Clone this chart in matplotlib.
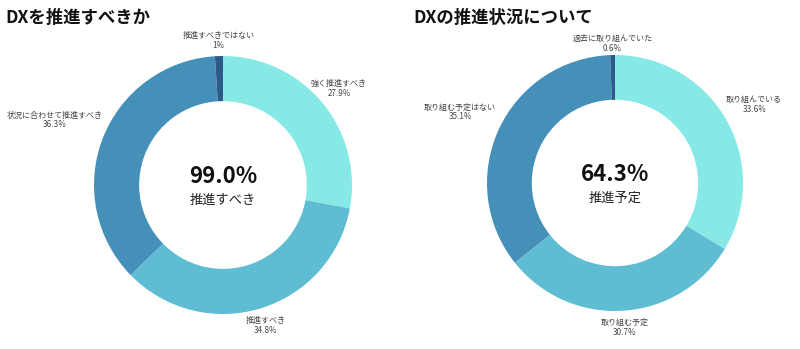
import numpy as np
import matplotlib
matplotlib.use('Agg')
import matplotlib.pyplot as plt

plt.rcParams['font.family'] = ['Noto Sans CJK JP', 'DejaVu Sans']

# data
left_title = 'DXを推進すべきか'
left_labels = ['強く推進すべき', '推進すべき', '状況に合わせて推進すべき', '推進すべきではない']
left_values = [27.9, 34.8, 36.3, 1.0]
left_pct_text = ['27.9%', '34.8%', '36.3%', '1%']
left_center_value = '99.0%'
left_center_label = '推進すべき'

right_title = 'DXの推進状況について'
right_labels = ['取り組んでいる', '取り組む予定', '取り組む予定はない', '過去に取り組んでいた']
right_values = [33.6, 30.7, 35.1, 0.6]
right_pct_text = ['33.6%', '30.7%', '35.1%', '0.6%']
right_center_value = '64.3%'
right_center_label = '推進予定'

colors = ['#87e9e6', '#5ebcd3', '#4590b9', '#2d5a8a']

W, H = 800, 349
fig = plt.figure(figsize=(W / 100, H / 100), dpi=100)


def donut(cx, cy, r, values, labels, pcts, dists, center_value, center_label):
    ax = fig.add_axes([(cx - r) / W, (cy - r) / H, 2 * r / W, 2 * r / H])
    ax.pie(values, colors=colors, startangle=90, counterclock=False,
           radius=1.0, wedgeprops=dict(width=0.35, linewidth=0))
    ax.set_xlim(-1, 1)
    ax.set_ylim(-1, 1)
    ax.set_aspect('equal')
    ax.axis('off')
    total = sum(values)
    start = 90.0
    for v, lab, p, d in zip(values, labels, pcts, dists):
        sweep = v / total * 360
        mid = np.deg2rad(start - sweep / 2)
        start -= sweep
        ax.text(d * np.cos(mid), d * np.sin(mid), f'{lab}\n{p}', ha='center', va='center',
                fontsize=5.8, color='#444444', linespacing=1.1, clip_on=False)
    ax.text(0, 0.065, center_value, ha='center', va='center', fontsize=16,
            fontweight='bold', color='#111111')
    ax.text(0, -0.12, center_label, ha='center', va='center', fontsize=9.5,
            color='#222222')
    return ax


# pixel centres measured from the top of the image
donut(223, H - 185, 129, left_values, left_labels, left_pct_text,
      [1.17, 1.14, 1.40, 1.12], left_center_value, left_center_label)
donut(615, H - 183, 128, right_values, right_labels, right_pct_text,
      [1.25, 1.13, 1.33, 1.09], right_center_value, right_center_label)

fig.text(5 / W, 1 - 18 / H, left_title, ha='left', va='center', fontsize=12.5,
         fontweight='bold', color='#111111')
fig.text(413 / W, 1 - 18 / H, right_title, ha='left', va='center', fontsize=12.5,
         fontweight='bold', color='#111111')

fig.savefig('out.png', dpi=100, facecolor='white')
